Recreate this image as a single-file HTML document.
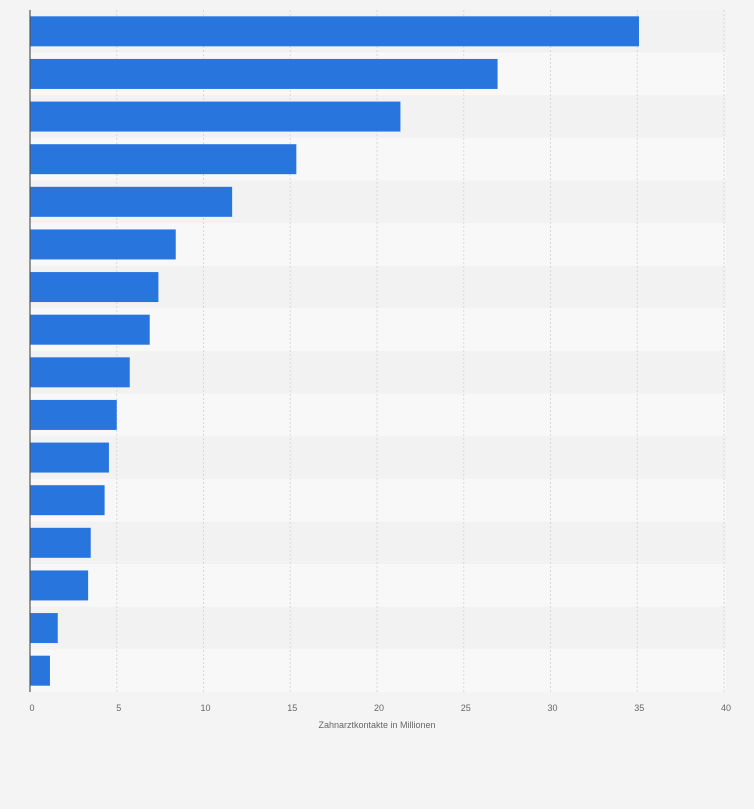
<!DOCTYPE html>
<html><head><meta charset="utf-8"><style>
html,body{margin:0;padding:0;background:#f4f4f4;}
svg{display:block;font-family:"Liberation Sans",sans-serif;}
</style></head><body>
<svg id="chart" width="754" height="809"></svg>
<script>
const categories=["c1","c2","c3","c4","c5","c6","c7","c8","c9","c10","c11","c12","c13","c14","c15","c16"];
const values=[35.1,26.95,21.35,15.35,11.65,8.4,7.4,6.9,5.75,5.0,4.55,4.3,3.5,3.35,1.6,1.15];
const ticks=[0,5,10,15,20,25,30,35,40];
const axisTitle="Zahnarztkontakte in Millionen";
const NS="http://www.w3.org/2000/svg";
const svg=document.getElementById('chart');
const x0=30,x1=724,plotTop=10,plotBottom=692,xmax=40;
const xs=v=>x0+(v/xmax)*(x1-x0);
const rowH=(plotBottom-plotTop)/categories.length;
const ys=i=>plotTop+i*rowH;
function mk(t,a){const e=document.createElementNS(NS,t);for(const k in a)e.setAttribute(k,a[k]);svg.appendChild(e);return e;}
categories.forEach((c,i)=>{
  const r=mk('rect',{x:x0,y:ys(i),width:x1+2-x0,height:rowH,fill:i%2?'#f8f8f8':'#f2f2f2'});
  
  
});
ticks.forEach(t=>{
  if(t>0){const g=mk('line',{x1:xs(t),x2:xs(t),y1:plotTop,y2:plotBottom,stroke:'#d8d8d8','stroke-dasharray':'2,2'});
  
  }
  const l=mk('text',{x:xs(t)+2,y:711,'font-size':9,fill:'#666','text-anchor':'middle'});
  l.textContent=t;
  
  
});
values.forEach((v,i)=>{
  const b=mk('rect',{x:x0,y:ys(i)+(rowH-30)/2,width:xs(v)-x0,height:30,fill:'#2876dd'});
  
  
});
const ax=mk('line',{x1:x0,x2:x0,y1:plotTop,y2:plotBottom,stroke:'#555','stroke-width':1.2});


const tt=mk('text',{x:377,y:728,'font-size':9,fill:'#666','text-anchor':'middle'});
tt.textContent=axisTitle;


</script>
</body></html>
